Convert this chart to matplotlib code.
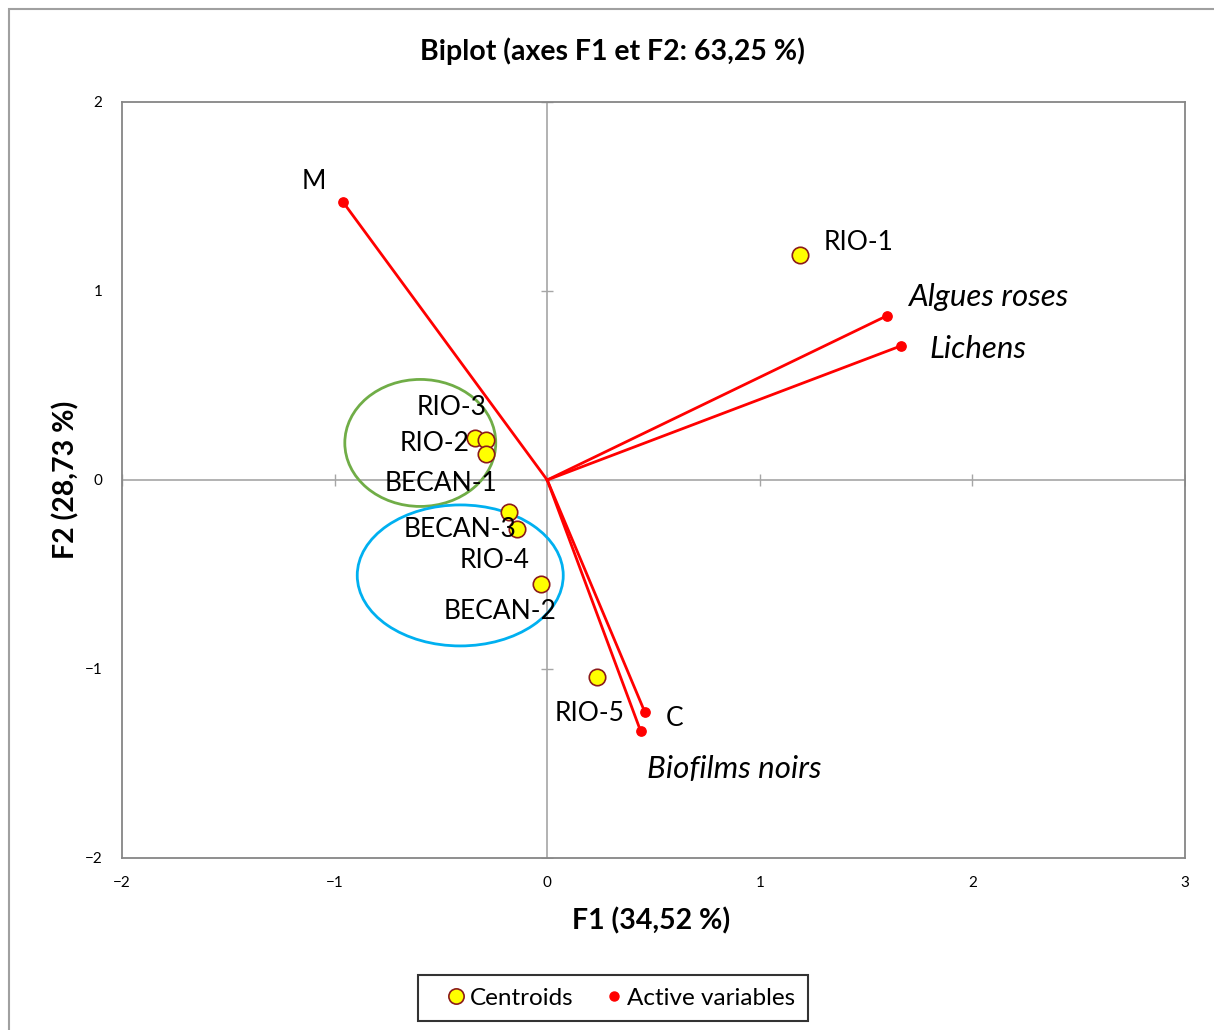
import matplotlib.pyplot as plt
from matplotlib.patches import Ellipse, Rectangle
from matplotlib.lines import Line2D

plt.rcParams['font.family'] = ['Lato', 'DejaVu Sans']

# active variables (vectors from origin)
var_names = ["M", "Algues roses", "Lichens", "C", "Biofilms noirs"]
var_x = [-0.96, 1.60, 1.665, 0.46, 0.44]
var_y = [1.47, 0.87, 0.71, -1.23, -1.33]
var_italic = [False, True, True, False, True]

# centroids
cen_names = ["RIO-1", "RIO-3", "RIO-2", "BECAN-1", "BECAN-3", "RIO-4", "BECAN-2", "RIO-5"]
cen_x = [1.19, -0.34, -0.29, -0.29, -0.18, -0.14, -0.03, 0.235]
cen_y = [1.19, 0.22, 0.21, 0.14, -0.17, -0.26, -0.55, -1.04]

xticks = [-2, -1, 0, 1, 2, 3]
yticks = [-2, -1, 0, 1, 2]

# label offsets in pixels (dx, dy, ha)
var_offsets = [(-29, 21, 'center'), (21, 19, 'left'), (28, -3, 'left'),
               (21, -6, 'left'), (6, -38, 'left')]
cen_offsets = [(23, 13, 'left'), (12, 31, 'right'), (-16, -3, 'right'),
               (12, -30, 'right'), (8, -17, 'right'), (12, -31, 'right'),
               (16, -28, 'right'), (27, -37, 'right')]

fig = plt.figure(figsize=(12.14, 10.30), dpi=100)
ax = fig.add_axes([0.1005, 0.1670, 0.8756, 0.7340])

# outer chart border
fig.patches.append(Rectangle((9 / 1214, -0.05), 1.1, 1 - 9 / 1030 + 0.05,
                             transform=fig.transFigure, fill=False,
                             edgecolor='#A0A0A0', linewidth=1.5))

ax.set_xlim(-2, 3)
ax.set_ylim(-2, 2)
ax.axhline(0, color='#A6A6A6', lw=1.2, zorder=1)
ax.axvline(0, color='#A6A6A6', lw=1.2, zorder=1)
# small cross ticks on the zero lines
ax.plot(xticks, [0] * len(xticks), ls='none', marker='|', ms=8, color='#A6A6A6', zorder=1)
ax.plot([0] * len(yticks), yticks, ls='none', marker='_', ms=8, color='#A6A6A6', zorder=1)

for s in ax.spines.values():
    s.set_color('#868686')
    s.set_linewidth(1.3)
ax.set_xticks(xticks)
ax.set_yticks(yticks)
ax.tick_params(length=0, labelsize=11, pad=13)
ax.tick_params(axis='y', pad=14)

# group ellipses
ax.add_patch(Ellipse((-0.597, 0.196), 0.71, 0.672, fill=False, edgecolor='#70AD47', lw=2, zorder=2))
ax.add_patch(Ellipse((-0.409, -0.505), 0.969, 0.746, fill=False, edgecolor='#00B0F0', lw=2, zorder=2))

for x, y in zip(var_x, var_y):
    ax.plot([0, x], [0, y], color='#FF0000', lw=2, zorder=3)
ax.scatter(var_x, var_y, s=45, color='#FF0000', zorder=4)
ax.scatter(cen_x, cen_y, s=140, color='#FFFF00', edgecolors='#8B1A1A', linewidths=1.2, zorder=5)

for name, x, y, it, (dx, dy, ha) in zip(var_names, var_x, var_y, var_italic, var_offsets):
    ax.annotate(name, (x, y), xytext=(dx, dy), textcoords='offset pixels',
                ha=ha, va='center', fontsize=22.5 if it else 19,
                style='italic' if it else 'normal', zorder=6)
for name, x, y, (dx, dy, ha) in zip(cen_names, cen_x, cen_y, cen_offsets):
    ax.annotate(name, (x, y), xytext=(dx, dy), textcoords='offset pixels',
                ha=ha, va='center', fontsize=19, zorder=6)

fig.text(0.5045, 0.950, "Biplot (axes F1 et F2: 63,25 %)", ha='center', va='center',
         fontsize=20.5, fontweight='bold')
fig.text(0.5365, 0.1055, "F1 (34,52 %)", ha='center', va='center', fontsize=20.5, fontweight='bold')
fig.text(0.054, 0.534, "F2 (28,73 %)", ha='center', va='center', rotation=90,
         fontsize=20.5, fontweight='bold')

handles = [
    Line2D([], [], ls='none', marker='o', ms=11, mfc='#FFFF00', mec='#8B1A1A', mew=1.2),
    Line2D([], [], ls='none', marker='o', ms=6.5, color='#FF0000'),
]
leg = fig.legend(handles, ["Centroids", "Active variables"], loc='center',
                 bbox_to_anchor=(0.505, 0.031), ncol=2, fontsize=17.5, frameon=True,
                 fancybox=False, handletextpad=-0.48, columnspacing=0.6, handlelength=2.1,
                 borderpad=0.5, borderaxespad=0)
leg.get_frame().set_edgecolor('black')
leg.get_frame().set_linewidth(1.5)

fig.savefig("out.png", dpi=100)
